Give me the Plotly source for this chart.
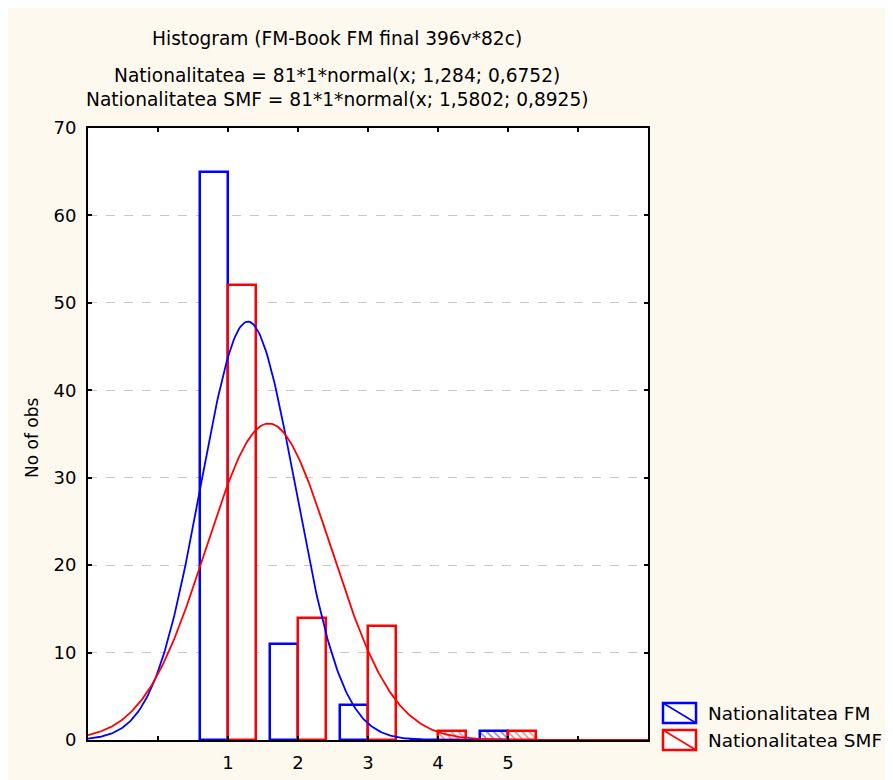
"""Histogram of Nationalitatea FM / SMF with fitted normal curves (Statistica-style)."""

import numpy as np
import plotly.graph_objects as go

# bar data
categories = [1, 2, 3, 4, 5]
fm_counts = [65, 11, 4, 0, 1]
smf_counts = [52, 14, 13, 1, 1]

# fitted normal parameters, as printed in the chart header
n_obs = 81
fm_mean, fm_sd = 1.284, 0.6752
smf_mean, smf_sd = 1.5802, 0.8925

x_ticks = [0, 1, 2, 3, 4, 5, 6]
x_ticklabels = ["", "1", "2", "3", "4", "5", ""]
y_ticks = [0, 10, 20, 30, 40, 50, 60, 70]

BLUE = "#0000FF"
RED = "#FF0000"
CREAM = "#FEF9EF"
FONT = "DejaVu Sans"

# the page has an 8px body margin, so the figure is 885 x 772
OFF = 8
W, H = 885, 772
L, R, T, B = 80, 245, 120, 40
PW, PH = W - L - R, H - T - B


def px(x):
    # window pixel -> paper x
    return (x - OFF - L) / PW


def py(y):
    # window pixel -> paper y
    return (H - B - (y - OFF)) / PH


def normal_curve(mean, sd, xs):
    return n_obs * 1 * np.exp(-0.5 * ((xs - mean) / sd) ** 2) / (sd * np.sqrt(2 * np.pi))


curve_x = np.linspace(-1, 7, 401)

fig = go.Figure()
fig.add_trace(go.Bar(
    x=categories, y=fm_counts, offset=-0.4, width=0.4,
    name="Nationalitatea FM",
    marker=dict(color="white", line=dict(color=BLUE, width=2.5),
                pattern=dict(shape=["\\" if v == 1 else "" for v in fm_counts],
                             fgcolor=BLUE, bgcolor="white", size=5, solidity=0.3)),
    showlegend=False,
))
fig.add_trace(go.Bar(
    x=categories, y=smf_counts, offset=0, width=0.4,
    name="Nationalitatea SMF",
    marker=dict(color="white", line=dict(color=RED, width=2.5),
                pattern=dict(shape=["\\" if v == 1 else "" for v in smf_counts],
                             fgcolor=RED, bgcolor="white", size=5, solidity=0.3)),
    showlegend=False,
))
fig.add_trace(go.Scatter(
    x=curve_x, y=normal_curve(fm_mean, fm_sd, curve_x), mode="lines",
    line=dict(color=BLUE, width=1.8), showlegend=False,
))
fig.add_trace(go.Scatter(
    x=curve_x, y=normal_curve(smf_mean, smf_sd, curve_x), mode="lines",
    line=dict(color=RED, width=1.8), showlegend=False,
))

# header
titles = [
    ("Histogram (FM-Book FM final 396v*82c)", 38),
    ("Nationalitatea = 81*1*normal(x; 1,284; 0,6752)", 75),
    ("Nationalitatea SMF = 81*1*normal(x; 1,5802; 0,8925)", 100),
]
annotations = [
    dict(text=t, x=px(337), y=py(yc), xref="paper", yref="paper",
         xanchor="center", yanchor="middle", showarrow=False,
         font=dict(family=FONT, size=18.6, color="black"))
    for t, yc in titles
]
annotations.append(dict(
    text="No of obs", x=px(32), y=py(438), xref="paper", yref="paper",
    textangle=-90, showarrow=False, xanchor="center", yanchor="middle",
    font=dict(family=FONT, size=17, color="black"),
))

# hand-drawn legend (Statistica style: box with a diagonal)
shapes = []
for name, color, y0, y1 in [("Nationalitatea FM", BLUE, 703, 723),
                            ("Nationalitatea SMF", RED, 730, 750)]:
    shapes.append(dict(type="rect", xref="paper", yref="paper",
                       x0=px(663), x1=px(696), y0=py(y1), y1=py(y0),
                       line=dict(color=color, width=2.5), fillcolor="white"))
    shapes.append(dict(type="line", xref="paper", yref="paper",
                       x0=px(663), x1=px(696), y0=py(y0), y1=py(y1),
                       line=dict(color=color, width=1.5)))
    annotations.append(dict(
        text=name, x=px(706), y=py((y0 + y1) / 2), xref="paper", yref="paper",
        xanchor="left", yanchor="middle", showarrow=False,
        font=dict(family=FONT, size=18.4, color="black"),
    ))

fig.update_layout(
    width=W, height=H, autosize=False,
    margin=dict(l=L, r=R, t=T, b=B, pad=0, autoexpand=False),
    paper_bgcolor=CREAM, plot_bgcolor="white",
    barmode="overlay", bargap=0,
    font=dict(family=FONT, size=18, color="black"),
    annotations=annotations, shapes=shapes,
    xaxis=dict(
        range=[-1, 7], tickvals=x_ticks, ticktext=x_ticklabels,
        ticks="inside", ticklen=4, tickwidth=2, tickcolor="black",
        showline=True, linecolor="black", linewidth=2, mirror="ticks",
        showgrid=False, zeroline=False, ticklabelstandoff=5,
        automargin=False, tickfont=dict(family=FONT, size=18),
    ),
    yaxis=dict(
        range=[0, 70], tickvals=y_ticks,
        ticks="inside", ticklen=4, tickwidth=2, tickcolor="black",
        showline=True, linecolor="black", linewidth=2, mirror="ticks",
        showgrid=True, gridcolor="#C8C8C8", griddash="dash", gridwidth=1,
        zeroline=False, ticklabelstandoff=6,
        automargin=False, tickfont=dict(family=FONT, size=18),
    ),
)

fig.write_html("out.html")
